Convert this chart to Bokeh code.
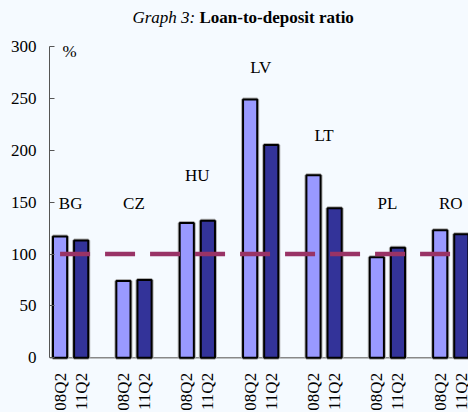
from bokeh.plotting import figure
from bokeh.models import Range1d, FixedTicker, Label, ColumnDataSource
from bokeh.embed import file_html
from bokeh.resources import INLINE
import math

countries = ["BG", "CZ", "HU", "LV", "LT", "PL", "RO"]
periods = ["08Q2", "11Q2"]
v08 = [117, 74, 130, 249, 176, 97, 123]
v11 = [113, 75, 132, 205, 144, 106, 119]
label_y = [149, 149, 176, 280, 214, 149, 149]
threshold = 100
y_ticks = [0, 50, 100, 150, 200, 250, 300]
y_max = 300

BG = "#F5FAFF"
FONT = "Liberation Serif"

# slot layout: per country two bars and one empty slot
x08 = [3 * i + 0.5 for i in range(len(countries))]
x11 = [3 * i + 1.5 for i in range(len(countries))]

p = figure(width=468, height=412, output_backend="svg", toolbar_location=None,
           x_range=Range1d(0, 19.84), y_range=Range1d(-52.7, 344.3),
           min_border_left=49, min_border_right=0, min_border_top=0, min_border_bottom=0)
p.background_fill_color = BG
p.border_fill_color = BG
p.outline_line_color = None
p.xgrid.visible = False
p.ygrid.visible = False
p.xaxis.visible = False

# baseline
p.line(x=[0, 19.84], y=[0, 0], line_color="#888888", line_width=1.5)

src08 = ColumnDataSource(dict(x=x08, top=v08))
src11 = ColumnDataSource(dict(x=x11, top=v11))
for src, col in ((src08, "#9999FF"), (src11, "#333399")):
    p.vbar(x="x", top="top", bottom=0, width=0.67, source=src,
           fill_color=None, line_color="#B0B0B0", line_width=4)
    p.vbar(x="x", top="top", bottom=0, width=0.67, source=src,
           fill_color=col, line_color="#000000", line_width=2)

p.line(x=[x08[0], x11[-1] - 0.5], y=[threshold, threshold], line_color="#993366",
       line_width=4.5, line_dash="30 15", line_cap="butt")

# y axis
yax = p.yaxis[0]
yax.bounds = (0, y_max)
yax.ticker = FixedTicker(ticks=y_ticks)
yax.minor_tick_line_color = None
yax.major_tick_in = 5
yax.major_tick_out = 0
yax.axis_line_color = "#555555"
yax.major_tick_line_color = "#555555"
yax.major_label_text_font = FONT
yax.major_label_text_font_size = "17px"
yax.major_label_text_color = "#000000"
yax.major_label_standoff = 13

# x tick labels (rotated, below the baseline)
lx, lt = [], []
for a, b in zip(x08, x11):
    lx += [a, b]
    lt += periods
p.text(x=lx, y=[-14.5] * len(lx), text=lt, angle=math.pi / 2,
       text_align="right", text_baseline="middle", text_font={"value": FONT},
       text_font_size="17px", text_color="#000000")

# country labels
for i, c in enumerate(countries):
    p.add_layout(Label(x=3 * i + 1, y=label_y[i], text=c, text_align="center",
                       text_baseline="alphabetic", text_font=FONT,
                       text_font_size="17px", text_color="#000000"))

p.add_layout(Label(x=0.62, y=295, text="%", text_align="left", text_baseline="alphabetic",
                   text_font=FONT, text_font_size="17px", text_color="#000000"))

# title
p.add_layout(Label(x=6.9, y=327.5, text="Graph 3:", text_align="right",
                   text_baseline="alphabetic", text_font=FONT, text_font_style="italic",
                   text_font_size="17px", text_color="#000000"))
p.add_layout(Label(x=7.1, y=327.5, text="Loan-to-deposit ratio", text_align="left",
                   text_baseline="alphabetic", text_font=FONT, text_font_style="bold",
                   text_font_size="17px", text_color="#000000"))

html = file_html(p, INLINE)
html = html.replace("<head>", "<head><style>html,body{background:%s;margin:0;}</style>" % BG, 1)
open("out.html", "w").write(html)
